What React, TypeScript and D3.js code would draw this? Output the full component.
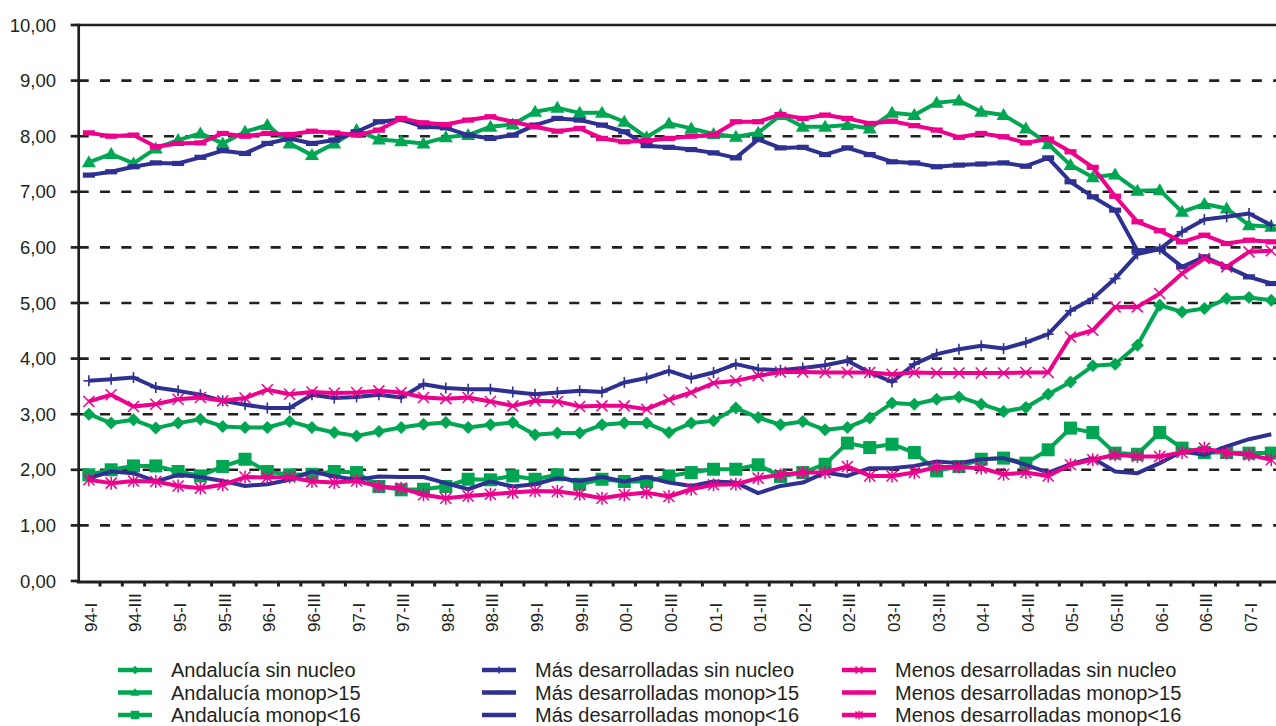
import React from "react";
import * as d3 from "d3";

const categories = [
  "94-I","94-II","94-III","94-IV","95-I","95-II","95-III","95-IV","96-I","96-II","96-III","96-IV",
  "97-I","97-II","97-III","97-IV","98-I","98-II","98-III","98-IV","99-I","99-II","99-III","99-IV",
  "00-I","00-II","00-III","00-IV","01-I","01-II","01-III","01-IV","02-I","02-II","02-III","02-IV",
  "03-I","03-II","03-III","03-IV","04-I","04-II","04-III","04-IV","05-I","05-II","05-III","05-IV",
  "06-I","06-II","06-III","06-IV","07-I","07-II",
];

const andaluciaSinNucleo = [3.00,2.84,2.90,2.75,2.84,2.91,2.78,2.76,2.76,2.87,2.76,2.67,2.61,2.69,2.76,2.82,2.85,2.76,2.81,2.85,2.63,2.66,2.66,2.81,2.84,2.84,2.67,2.84,2.88,3.11,2.94,2.81,2.87,2.72,2.76,2.93,3.20,3.18,3.27,3.31,3.18,3.05,3.12,3.36,3.58,3.87,3.90,4.24,4.96,4.84,4.90,5.08,5.10,5.05];
const andaluciaMonopMas15 = [7.53,7.68,7.51,7.78,7.93,8.05,7.87,8.08,8.20,7.87,7.66,7.87,8.11,7.94,7.91,7.87,7.98,8.02,8.17,8.21,8.44,8.51,8.42,8.42,8.26,7.98,8.23,8.14,8.04,7.99,8.06,8.38,8.17,8.17,8.20,8.14,8.42,8.38,8.60,8.64,8.44,8.38,8.14,7.86,7.48,7.26,7.31,7.02,7.03,6.64,6.78,6.70,6.40,6.37];
const andaluciaMonopMenos16 = [1.91,2.00,2.07,2.07,1.97,1.89,2.06,2.19,1.97,1.91,1.92,1.97,1.95,1.70,1.64,1.65,1.70,1.83,1.82,1.89,1.83,1.91,1.74,1.83,1.79,1.79,1.89,1.95,2.01,2.01,2.09,1.88,1.95,2.10,2.48,2.40,2.46,2.31,1.98,2.06,2.19,2.21,2.12,2.36,2.75,2.67,2.30,2.28,2.67,2.39,2.31,2.31,2.30,2.30];
const masSinNucleo = [3.60,3.63,3.66,3.48,3.42,3.35,3.24,3.17,3.11,3.11,3.35,3.29,3.31,3.35,3.30,3.54,3.47,3.45,3.45,3.40,3.36,3.39,3.42,3.40,3.57,3.65,3.78,3.65,3.75,3.90,3.81,3.79,3.83,3.88,3.96,3.75,3.58,3.90,4.08,4.17,4.23,4.18,4.29,4.44,4.86,5.08,5.44,5.88,5.97,6.28,6.50,6.55,6.61,6.40];
const masMonopMas15 = [7.30,7.36,7.45,7.52,7.51,7.62,7.74,7.69,7.87,7.96,7.87,7.93,8.08,8.26,8.30,8.17,8.15,8.02,7.96,8.02,8.20,8.32,8.29,8.20,8.08,7.83,7.80,7.76,7.70,7.61,7.94,7.79,7.80,7.67,7.79,7.67,7.54,7.52,7.45,7.48,7.50,7.52,7.46,7.61,7.18,6.91,6.67,5.94,5.97,5.65,5.83,5.65,5.47,5.35];
const masMonopMenos16 = [1.85,1.97,1.94,1.79,1.91,1.87,1.80,1.71,1.74,1.82,1.97,1.88,1.82,1.88,1.87,1.87,1.76,1.65,1.79,1.70,1.74,1.85,1.80,1.87,1.79,1.87,1.77,1.71,1.79,1.77,1.58,1.71,1.77,1.95,1.89,2.03,2.03,2.07,2.15,2.12,2.19,2.21,2.09,1.95,2.10,2.21,1.97,1.94,2.12,2.33,2.27,2.42,2.55,2.64];
const menosSinNucleo = [3.23,3.35,3.14,3.18,3.27,3.30,3.24,3.29,3.44,3.36,3.40,3.38,3.39,3.42,3.39,3.30,3.28,3.30,3.23,3.15,3.24,3.23,3.14,3.15,3.15,3.09,3.26,3.39,3.56,3.60,3.69,3.76,3.76,3.75,3.75,3.75,3.72,3.75,3.74,3.74,3.74,3.74,3.75,3.75,4.39,4.51,4.93,4.93,5.17,5.53,5.80,5.65,5.92,5.94];
const menosMonopMas15 = [8.06,8.00,8.02,7.81,7.87,7.88,8.05,8.00,8.05,8.03,8.09,8.06,8.02,8.11,8.32,8.24,8.21,8.29,8.35,8.26,8.17,8.09,8.14,7.96,7.90,7.92,7.96,8.00,8.02,8.26,8.26,8.39,8.32,8.38,8.32,8.23,8.27,8.19,8.11,7.98,8.05,7.99,7.88,7.95,7.72,7.44,6.92,6.46,6.30,6.10,6.22,6.07,6.13,6.10];
const menosMonopMenos16 = [1.82,1.76,1.80,1.79,1.71,1.67,1.73,1.87,1.86,1.87,1.79,1.77,1.80,1.70,1.67,1.55,1.49,1.53,1.56,1.59,1.62,1.61,1.56,1.49,1.55,1.59,1.52,1.65,1.73,1.74,1.85,1.91,1.95,1.95,2.06,1.89,1.89,1.95,2.05,2.05,2.03,1.92,1.95,1.89,2.09,2.18,2.27,2.24,2.24,2.31,2.39,2.30,2.27,2.18];

const yTicks = [0, 1, 2, 3, 4, 5, 6, 7, 8, 9, 10];
const xTickLabels = categories.filter((c) => c.endsWith("-I") || c.endsWith("-III"));

const GREEN = "#00a651";
const BLUE = "#2e3192";
const PINK = "#ec008c";
const INK = "#231f20";

type MarkerType = "diamond" | "triangle" | "square" | "plus" | "dash" | "none" | "x" | "asterisk";

const series: { name: string; color: string; marker: MarkerType; values: number[] }[] = [
  { name: "Andalucía sin nucleo", color: GREEN, marker: "diamond", values: andaluciaSinNucleo },
  { name: "Andalucía monop>15", color: GREEN, marker: "triangle", values: andaluciaMonopMas15 },
  { name: "Andalucía monop<16", color: GREEN, marker: "square", values: andaluciaMonopMenos16 },
  { name: "Más desarrolladas sin nucleo", color: BLUE, marker: "plus", values: masSinNucleo },
  { name: "Más desarrolladas monop>15", color: BLUE, marker: "dash", values: masMonopMas15 },
  { name: "Más desarrolladas monop<16", color: BLUE, marker: "none", values: masMonopMenos16 },
  { name: "Menos desarrolladas sin nucleo", color: PINK, marker: "x", values: menosSinNucleo },
  { name: "Menos desarrolladas monop>15", color: PINK, marker: "dash", values: menosMonopMas15 },
  { name: "Menos desarrolladas monop<16", color: PINK, marker: "asterisk", values: menosMonopMenos16 },
];

const W = 1276;
const H = 726;
const left = 77.7;
const step = 22.31;
const x = d3.scaleBand<string>().domain(categories).range([left, left + step * categories.length]).paddingInner(0).paddingOuter(0);
const y = d3.scaleLinear().domain([0, 10]).range([581, 25]);
const cx = (c: string) => (x(c) as number) + x.bandwidth() / 2;
const fmt = (v: number) => d3.format(".2f")(v).replace(".", ",");
const FONT = "'Liberation Sans', Arial, Helvetica, sans-serif";

function Marker({ type, px, py, color, s }: { type: MarkerType; px: number; py: number; color: string; s: number }) {
  switch (type) {
    case "diamond":
      return <path d={`M${px},${py - 6.5 * s}L${px + 6.5 * s},${py}L${px},${py + 6.5 * s}L${px - 6.5 * s},${py}Z`} fill={color} />;
    case "triangle":
      return <path d={`M${px},${py - 7 * s}L${px + 7 * s},${py + 5 * s}L${px - 7 * s},${py + 5 * s}Z`} fill={color} />;
    case "square":
      return <rect x={px - 6.5 * s} y={py - 6.5 * s} width={13 * s} height={13 * s} fill={color} />;
    case "plus":
      return (
        <g stroke={color} strokeWidth={1.6}>
          <line x1={px} x2={px} y1={py - 5.5 * s} y2={py + 5.5 * s} />
          <line x1={px - 5.5 * s} x2={px + 5.5 * s} y1={py} y2={py} />
        </g>
      );
    case "dash":
      return <rect x={px - 6 * s} y={py - 2.6 * s} width={12 * s} height={5.2 * s} fill={color} />;
    case "x":
      return (
        <g stroke={color} strokeWidth={1.5}>
          <line x1={px - 5.5 * s} x2={px + 5.5 * s} y1={py - 5.5 * s} y2={py + 5.5 * s} />
          <line x1={px - 5.5 * s} x2={px + 5.5 * s} y1={py + 5.5 * s} y2={py - 5.5 * s} />
        </g>
      );
    case "asterisk":
      return (
        <g stroke={color} strokeWidth={1.5}>
          <line x1={px - 5.5 * s} x2={px + 5.5 * s} y1={py - 5.5 * s} y2={py + 5.5 * s} />
          <line x1={px - 5.5 * s} x2={px + 5.5 * s} y1={py + 5.5 * s} y2={py - 5.5 * s} />
          <line x1={px} x2={px} y1={py - 6.5 * s} y2={py + 6.5 * s} />
        </g>
      );
    default:
      return null;
  }
}

const legendCols = [118, 482, 842];
const legendRows = [670, 692.5, 715];

export default function App() {
  const line = d3
    .line<number>()
    .x((_, i) => cx(categories[i]))
    .y((v) => y(v));

  const boundaries = d3.range(1, categories.length + 1).map((k) => left + k * x.step());

  return (
    <svg
      width={W}
      height={H}
      viewBox={`0 0 ${W} ${H}`}
      style={{ position: "absolute", left: 0, top: 0, display: "block", background: "#fff" }}
      fontFamily={FONT}
    >
      <rect x={0} y={0} width={W} height={H} fill="#fff" />
      {yTicks.filter((t) => t > 0 && t < 10).map((t) => (
        <line
          key={t}
          x1={left + 1}
          x2={W}
          y1={y(t)}
          y2={y(t)}
          stroke={INK}
          strokeWidth={2.6}
          strokeDasharray="10,11.33"
        />
      ))}
      <line x1={left} x2={W} y1={y(10)} y2={y(10)} stroke={INK} strokeWidth={2.6} />
      <line x1={left + 1} x2={left + 1} y1={y(10) - 1.3} y2={y(0) + 1.3} stroke={INK} strokeWidth={2.7} />
      {yTicks.map((t) => (
        <g key={t}>
          <line x1={left - 7} x2={left + 1} y1={y(t)} y2={y(t)} stroke={INK} strokeWidth={2.7} />
          <text x={56} y={y(t) + 6.5} textAnchor="end" fontSize={18.5} fill={INK}>
            {fmt(t)}
          </text>
        </g>
      ))}
      <line x1={left - 1} x2={W} y1={y(0) + 1} y2={y(0) + 1} stroke={INK} strokeWidth={2.8} />
      {boundaries.map((b, i) => (
        <line key={i} x1={b} x2={b} y1={y(0) + 1} y2={y(0) + 5.5} stroke={INK} strokeWidth={3} />
      ))}
      {xTickLabels.map((c) => {
        const px = cx(c) + 8;
        const py = 632;
        return (
          <text key={c} x={px} y={py} transform={`rotate(-90 ${px} ${py})`} fontSize={17} fill={INK}>
            {c}
          </text>
        );
      })}
      {series.map((s) => (
        <g key={s.name}>
          <path d={line(s.values) || ""} fill="none" stroke={s.color} strokeWidth={4} strokeLinejoin="round" />
          {s.values.map((v, i) => (
            <Marker key={i} type={s.marker} px={cx(categories[i])} py={y(v)} color={s.color} s={1} />
          ))}
        </g>
      ))}
      {series.map((s, i) => {
        const col = Math.floor(i / 3);
        const row = i % 3;
        const lx = legendCols[col];
        const ly = legendRows[row];
        return (
          <g key={s.name}>
            <line x1={lx} x2={lx + 34} y1={ly} y2={ly} stroke={s.color} strokeWidth={4.5} />
            <Marker type={s.marker} px={lx + 17} py={ly} color={s.color} s={0.65} />
            <text x={lx + 53} y={ly + 7} fontSize={20} fill={INK}>
              {s.name}
            </text>
          </g>
        );
      })}
    </svg>
  );
}
